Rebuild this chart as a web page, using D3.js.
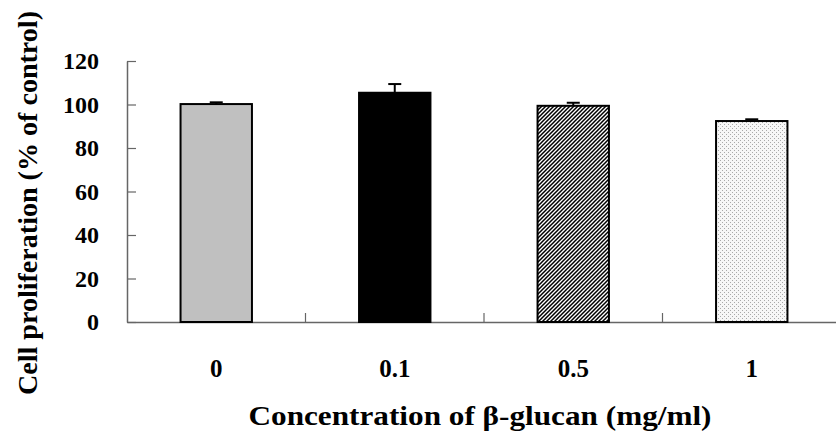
<!DOCTYPE html>
<html>
<head>
<meta charset="utf-8">
<script src="https://cdn.jsdelivr.net/npm/d3@7"></script>
<style>
  body { margin: 0; background: #fff; }
</style>
</head>
<body>
<div id="chart"></div>
<script>
// datos del gráfico
var categories = ["0", "0.1", "0.5", "1"];
var means = [100.2, 105.4, 99.4, 92.4];
var errors = [0.8, 4.0, 1.4, 0.8];
var yTicks = [0, 20, 40, 60, 80, 100, 120];
var fills = ["#c0c0c0", "#000000", "url(#hatch)", "url(#dots)"];

var width = 836;
var height = 437;
var serif = "'Liberation Serif', 'DejaVu Serif', 'Times New Roman', serif";

var svg = d3.select("#chart")
  .append("svg")
  .attr("width", width)
  .attr("height", height)
  .style("font-family", serif)
  .style("font-weight", "bold");

// patrones de relleno
var defs = svg.append("defs");
var hatch = defs.append("pattern")
  .attr("id", "hatch")
  .attr("patternUnits", "userSpaceOnUse")
  .attr("width", 4)
  .attr("height", 4);
hatch.append("rect").attr("width", 4).attr("height", 4).attr("fill", "#fff");
hatch.append("path")
  .attr("d", "M-1,1 l2,-2 M0,4 l4,-4 M3,5 l2,-2")
  .attr("stroke", "#000")
  .attr("stroke-width", 1.5);

var dots = defs.append("pattern")
  .attr("id", "dots")
  .attr("patternUnits", "userSpaceOnUse")
  .attr("width", 4)
  .attr("height", 4);
dots.append("rect").attr("width", 4).attr("height", 4).attr("fill", "#f6f6f6");
dots.append("rect").attr("x", 0).attr("y", 0).attr("width", 1).attr("height", 1).attr("fill", "#a8a8a8");
dots.append("rect").attr("x", 2).attr("y", 2).attr("width", 1).attr("height", 1).attr("fill", "#a8a8a8");

// escalas
var x = d3.scaleBand()
  .domain(categories)
  .range([127, 841])
  .paddingInner(0.6)
  .paddingOuter(0.3);

var y = d3.scaleLinear()
  .domain([0, 120])
  .range([322, 61]);

// eje Y (marcas hacia dentro)
var yAxis = svg.append("g")
  .attr("transform", "translate(127,0)")
  .call(d3.axisLeft(y).tickValues(yTicks).tickSizeInner(-9).tickSizeOuter(0).tickPadding(28));
yAxis.attr("font-family", null).attr("font-size", null);
yAxis.select(".domain").attr("stroke", "#666").attr("stroke-width", 1.5);
yAxis.selectAll(".tick line").attr("stroke", "#666").attr("stroke-width", 1.2);
yAxis.selectAll(".tick text")
  .style("font-size", "24px")
  .attr("dy", "0.33em");

// eje X
var xAxis = svg.append("g")
  .attr("transform", "translate(0,322)")
  .call(d3.axisBottom(x).tickSize(0).tickPadding(37));
xAxis.attr("font-family", null).attr("font-size", null);
xAxis.select(".domain").attr("stroke", "#666").attr("stroke-width", 1.5);
xAxis.selectAll(".tick text")
  .style("font-size", "25px");

// marcas entre categorías
xAxis.selectAll(".sep")
  .data(categories.slice(1))
  .enter()
  .append("line")
  .attr("class", "sep")
  .attr("x1", function(d) { return x(d) - x.step() * x.paddingInner() / 2; })
  .attr("x2", function(d) { return x(d) - x.step() * x.paddingInner() / 2; })
  .attr("y1", 0)
  .attr("y2", -9)
  .attr("stroke", "#666")
  .attr("stroke-width", 1.2);

// barras
svg.selectAll("rect.bar")
  .data(categories)
  .enter()
  .append("rect")
  .attr("class", "bar")
  .attr("x", function(d) { return x(d); })
  .attr("y", function(d, i) { return y(means[i]); })
  .attr("width", x.bandwidth())
  .attr("height", function(d, i) { return y(0) - y(means[i]); })
  .attr("fill", function(d, i) { return fills[i]; })
  .attr("stroke", "#000")
  .attr("stroke-width", 2);

// barras de error (solo hacia arriba)
var err = svg.selectAll("g.err")
  .data(categories)
  .enter()
  .append("g")
  .attr("class", "err");
err.append("line")
  .attr("x1", function(d) { return x(d) + x.bandwidth() / 2; })
  .attr("x2", function(d) { return x(d) + x.bandwidth() / 2; })
  .attr("y1", function(d, i) { return y(means[i]); })
  .attr("y2", function(d, i) { return y(means[i] + errors[i]); })
  .attr("stroke", "#000")
  .attr("stroke-width", 2);
err.append("line")
  .attr("x1", function(d) { return x(d) + x.bandwidth() / 2 - 6.5; })
  .attr("x2", function(d) { return x(d) + x.bandwidth() / 2 + 6.5; })
  .attr("y1", function(d, i) { return y(means[i] + errors[i]); })
  .attr("y2", function(d, i) { return y(means[i] + errors[i]); })
  .attr("stroke", "#000")
  .attr("stroke-width", 2);

// títulos de ejes
svg.append("text")
  .attr("x", 480)
  .attr("y", 425)
  .attr("text-anchor", "middle")
  .style("font-size", "28px")
  .attr("textLength", 463)
  .attr("lengthAdjust", "spacingAndGlyphs")
  .text("Concentration of β-glucan (mg/ml)");

svg.append("text")
  .attr("transform", "translate(37,203) rotate(-90)")
  .attr("text-anchor", "middle")
  .style("font-size", "28px")
  .attr("textLength", 384)
  .attr("lengthAdjust", "spacingAndGlyphs")
  .text("Cell proliferation (% of control)");
</script>
</body>
</html>
